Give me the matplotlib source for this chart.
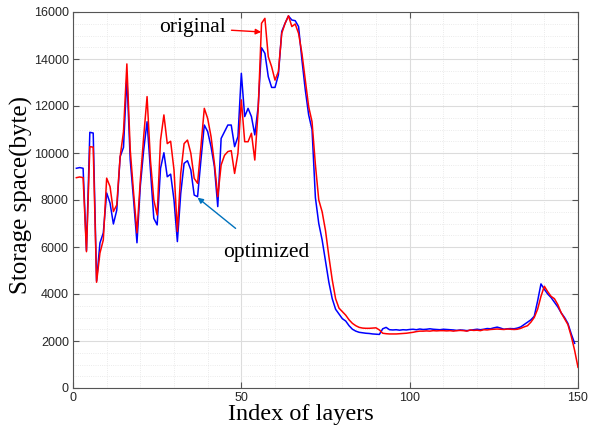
import matplotlib
matplotlib.use('Agg')
import matplotlib.pyplot as plt
from matplotlib.ticker import MultipleLocator

# storage size per layer
original = [
    8950, 8980, 8950, 5800, 10270, 10250, 4500, 5740, 6300, 8930,
    8570, 7510, 7790, 9840, 10910, 13790, 10130, 8300, 6600, 8850,
    10700, 12400, 9700, 8000, 7360, 10550, 11620, 10400, 10500, 9280,
    6660, 9130, 10400, 10550, 9990, 8920, 8710, 10270, 11900, 11470,
    10700, 9560, 8140, 9490, 9900, 10060, 10100, 9130, 9990, 12260,
    10480, 10480, 10840, 9700, 11830, 15520, 15730, 14100, 13670, 13100,
    13460, 15090, 15520, 15840, 15380, 15490, 15090, 14240, 13100, 11970,
    11330, 9500, 8000, 7500, 6700, 5600, 4600, 3800, 3400, 3250,
    3100, 2900, 2750, 2650, 2580, 2550, 2540, 2540, 2550, 2560,
    2470, 2330, 2310, 2300, 2300, 2300, 2310, 2320, 2330, 2350,
    2370, 2400, 2420, 2420, 2430, 2420, 2440, 2430, 2440, 2440,
    2430, 2440, 2420, 2440, 2450, 2440, 2420, 2470, 2450, 2460,
    2440, 2480, 2470, 2490, 2500, 2510, 2500, 2490, 2510, 2500,
    2490, 2500, 2540, 2600, 2650, 2800, 3000, 3350, 3900, 4330,
    4100, 3900, 3800, 3550, 3200, 2950, 2700, 2200, 1600, 880,
]
optimized = [
    9350, 9380, 9350, 5850, 10880, 10850, 4550, 6170, 6600, 8300,
    7870, 6980, 7570, 9840, 10240, 13250, 9700, 8000, 6180, 8600,
    10130, 11330, 9280, 7220, 6940, 9350, 10010, 8990, 9100, 8000,
    6230, 8280, 9560, 9670, 9280, 8210, 8140, 9700, 11190, 10910,
    10270, 9420, 7720, 10620, 10900, 11190, 11190, 10270, 10700, 13390,
    11550, 11900, 11550, 10770, 11970, 14480, 14240, 13250, 12790, 12790,
    13320, 15170, 15520, 15830, 15660, 15630, 15380, 13960, 12680, 11620,
    11000, 8100, 7000, 6300, 5400, 4500, 3800, 3350, 3150, 2950,
    2850, 2650, 2500, 2420, 2370, 2350, 2330, 2320, 2300, 2290,
    2280, 2520, 2580, 2480, 2470, 2480, 2460, 2480, 2470, 2490,
    2500, 2480, 2510, 2490, 2500, 2520, 2500, 2490, 2480, 2500,
    2490, 2480, 2470, 2450, 2470, 2460, 2440, 2460, 2480, 2500,
    2480, 2500, 2530, 2520, 2560, 2590, 2550, 2500, 2520, 2530,
    2520, 2550, 2600, 2700, 2800, 2900, 3050, 3700, 4430, 4200,
    4000, 3850, 3650, 3450, 3200, 3000, 2750, 2300, 1900,
]
x_orig = list(range(1, len(original) + 1))
x_opt = list(range(1, len(optimized) + 1))

SERIF = ['Liberation Serif', 'DejaVu Serif']
SANS = ['Liberation Sans', 'DejaVu Sans']

fig = plt.figure(figsize=(5.91, 4.28), dpi=100)
ax = fig.add_axes([73 / 591, 1 - 388 / 428, 505 / 591, 376 / 428])

ax.plot(x_opt, optimized, color='#0000FF', lw=1.1, zorder=3)
ax.plot(x_orig, original, color='#FF0000', lw=1.1, zorder=4)

ax.set_xlim(0, 150)
ax.set_ylim(0, 16000)
ax.xaxis.set_major_locator(MultipleLocator(50))
ax.xaxis.set_minor_locator(MultipleLocator(10))
ax.yaxis.set_major_locator(MultipleLocator(2000))
ax.yaxis.set_minor_locator(MultipleLocator(500))

ax.grid(which='major', color='#dcdcdc', lw=0.8, ls='-')
ax.grid(which='minor', color='#e4e4e4', lw=0.6, ls=':')
ax.set_axisbelow(True)

for sp in ax.spines.values():
    sp.set_color('#555555')
    sp.set_linewidth(0.8)
ax.tick_params(which='major', direction='in', length=4, width=0.8,
               color='#555555', top=True, right=True, labelsize=9,
               labelcolor='#262626', pad=3)
ax.tick_params(which='minor', length=0, top=True, right=True)
for lab in ax.get_xticklabels() + ax.get_yticklabels():
    lab.set_family(SANS)

ax.set_xlabel('Index of layers', fontsize=17.5, family=SERIF)
ax.set_ylabel('Storage space(byte)', fontsize=18, family=SERIF)
ax.xaxis.set_label_coords(0.451, -0.043)
ax.yaxis.set_label_coords(-0.079, 0.513)

ax.annotate('original', xy=(55.9, 15150), xytext=(35.5, 15320),
            fontsize=15.5, family=SERIF, ha='center', va='center',
            arrowprops=dict(arrowstyle='-|>', color='#FF0000', lw=1.0,
                            mutation_scale=8, shrinkA=2, shrinkB=0))
ax.annotate('optimized', xy=(37, 8100), xytext=(57.3, 5750),
            fontsize=15.5, family=SERIF, ha='center', va='center',
            arrowprops=dict(arrowstyle='-|>', color='#0072BD', lw=1.0,
                            mutation_scale=8, shrinkA=14, shrinkB=0))

fig.savefig('out.png', dpi=100, facecolor='white')
